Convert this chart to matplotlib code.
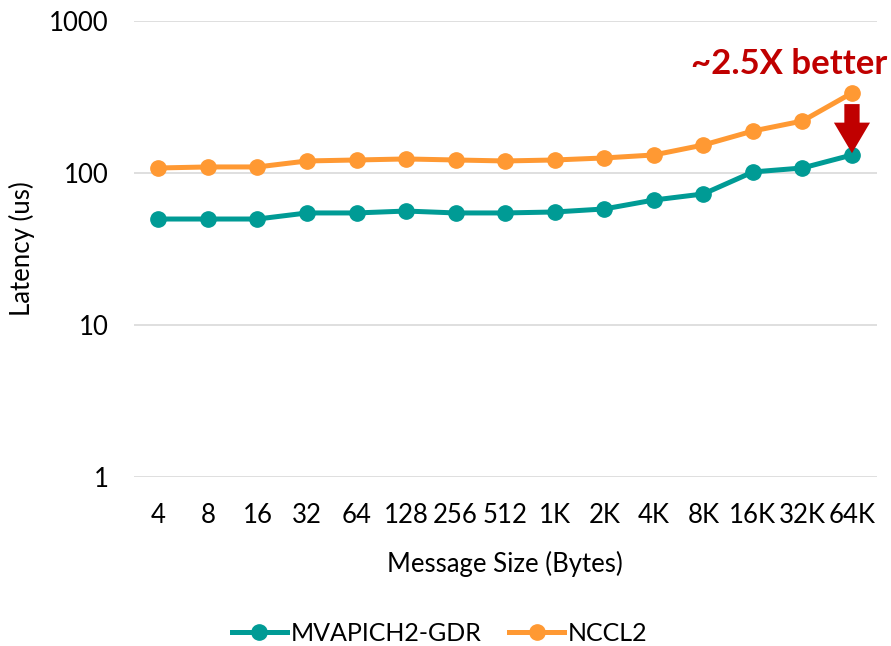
import matplotlib
matplotlib.use("Agg")
import matplotlib.pyplot as plt

sizes = ["4", "8", "16", "32", "64", "128", "256", "512", "1K", "2K", "4K", "8K", "16K", "32K", "64K"]
mvapich = [49.8, 49.8, 49.8, 54.6, 54.6, 56.2, 54.6, 54.6, 55.4, 58.0, 66.4, 72.8, 101.6, 107.9, 131.4]
nccl = [107.9, 109.6, 109.6, 120.0, 121.8, 123.7, 121.8, 120.0, 121.8, 125.6, 131.4, 152.8, 188.9, 219.8, 336.0]
yticks = [1, 10, 100, 1000]

plt.rcParams['font.family'] = ['Lato', 'DejaVu Sans']
fig = plt.figure(figsize=(8.91, 6.46), dpi=100)
ax = fig.add_axes([0.150, 0.2616, 0.834, 0.7059])

x = list(range(len(sizes)))
teal = '#009B95'
orange = '#FF9933'
ax.plot(x, mvapich, color=teal, lw=3.6, marker='o', ms=11, label='MVAPICH2-GDR')
ax.plot(x, nccl, color=orange, lw=3.6, marker='o', ms=11, label='NCCL2')

ax.set_yscale('log')
ax.set_ylim(1, 1000)
ax.set_xlim(-0.5, len(sizes) - 0.5)
ax.set_yticks(yticks)
ax.set_yticklabels([str(v) for v in yticks])
ax.minorticks_off()
ax.set_xticks(x)
ax.set_xticklabels(sizes)
ax.tick_params(axis='both', length=0, labelsize=18.5, colors='black')
ax.tick_params(axis='x', pad=19)
ax.tick_params(axis='y', pad=18)
ax.grid(axis='y', color='#D9D9D9', lw=1.2)
ax.set_axisbelow(True)
for s in ax.spines.values():
    s.set_visible(False)

ax.set_xlabel('Message Size (Bytes)', fontsize=18.5, labelpad=16)
ax.set_ylabel('Latency (us)', fontsize=18.5, labelpad=10)

ax.annotate('', xy=(14, 135), xytext=(14, 284),
            arrowprops=dict(arrowstyle='simple,head_width=2.6,head_length=2.2,tail_width=1.1',
                            mutation_scale=10, shrinkA=0, shrinkB=0,
                            color='#C00000', lw=0))
ax.text(14.72, 520, '~2.5X better', color='#C00000', fontsize=25, fontweight='bold',
        ha='right', va='center')

fig.legend(loc='center', bbox_to_anchor=(0.4935, 0.02), ncol=2, frameon=False, fontsize=18,
           handlelength=2.2, columnspacing=1.1, handletextpad=0.15)

fig.savefig('out.png', dpi=100)
